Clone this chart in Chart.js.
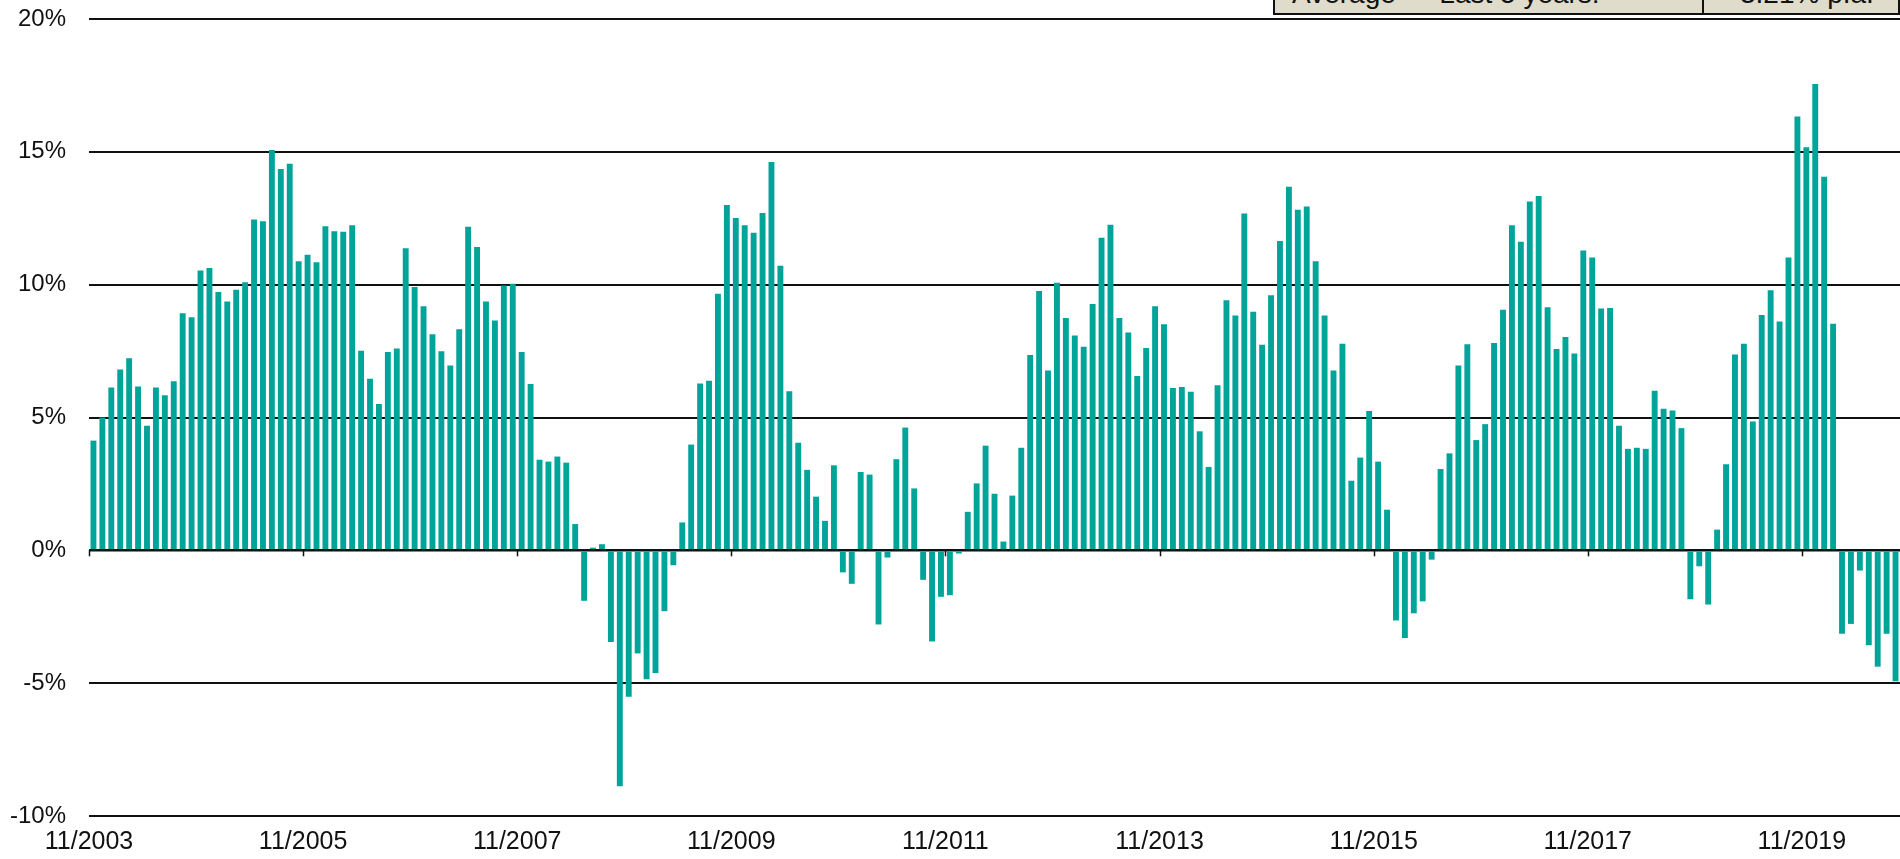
<!DOCTYPE html>
<html>
<head>
<meta charset="utf-8">
<title>Monthly change</title>
<script src="https://cdn.jsdelivr.net/npm/chart.js@4.4.1/dist/chart.umd.min.js"></script>
<style>
    html, body { margin: 0; padding: 0; background: #fff; overflow: hidden; }
    #wrap { position: relative; width: 1900px; height: 859px; }
    #chart { position: absolute; left: 0; top: 0; }
    .summary-cell {
        position: absolute;
        top: -30px;
        height: 43px;
        box-sizing: content-box;
        background: #e0dccb;
        border-left: 2px solid #111;
        border-bottom: 2px solid #111;
        font-family: 'Liberation Sans', Arial, sans-serif;
        font-size: 28px;
        line-height: 28px;
        color: #111;
        white-space: nowrap;
    }
    .summary-cell span { position: absolute; top: 10px; }
</style>
</head>
<body>
<div id="wrap">
    <canvas id="chart" width="1900" height="859"></canvas>
    <div class="summary-cell" id="summaryLabel" style="left:1273px; width:429px;"><span style="left:17px;"></span></div>
    <div class="summary-cell" id="summaryValue" style="left:1702px; width:194px; border-right:2px solid #111;"><span style="left:36px;"></span></div>
</div>
<script>
// Monthly bars, 11/2003 onwards (values in %)
const startMonth = 11;
const startYear = 2003;

const values = [
    4.13, 5.0, 6.13, 6.81, 7.23, 6.17, 4.69, 6.13, 5.84, 6.36,
    8.92, 8.77, 10.53, 10.63, 9.72, 9.37, 9.81, 10.09, 12.45, 12.39,
    15.07, 14.35, 14.55, 10.88, 11.13, 10.84, 12.2, 12.01, 11.99, 12.24,
    7.51, 6.46, 5.51, 7.47, 7.6, 11.37, 9.91, 9.19, 8.13, 7.49,
    6.96, 8.32, 12.18, 11.42, 9.37, 8.65, 9.97, 10.03, 7.47, 6.26,
    3.41, 3.34, 3.53, 3.30, 0.99, -1.90, 0.1, 0.23, -3.45, -8.88,
    -5.51, -3.88, -4.85, -4.62, -2.29, -0.56, 1.05, 3.98, 6.28, 6.38,
    9.66, 13.0, 12.51, 12.24, 11.95, 12.7, 14.62, 10.71, 5.99, 4.05,
    3.03, 2.02, 1.11, 3.2, -0.83, -1.26, 2.95, 2.85, -2.79, -0.27,
    3.43, 4.62, 2.33, -1.11, -3.43, -1.75, -1.69, -0.12, 1.45, 2.52,
    3.94, 2.13, 0.33, 2.06, 3.86, 7.35, 9.76, 6.77, 10.07, 8.75,
    8.09, 7.66, 9.27, 11.77, 12.26, 8.75, 8.2, 6.56, 7.62, 9.19,
    8.51, 6.11, 6.15, 5.97, 4.48, 3.14, 6.21, 9.41, 8.84, 12.68,
    8.98, 7.74, 9.6, 11.64, 13.69, 12.82, 12.94, 10.88, 8.84, 6.77,
    7.78, 2.62, 3.49, 5.24, 3.34, 1.53, -2.64, -3.3, -2.37, -1.92,
    -0.35, 3.06, 3.65, 6.96, 7.76, 4.15, 4.75, 7.8, 9.06, 12.24,
    11.62, 13.13, 13.34, 9.15, 7.58, 8.03, 7.41, 11.29, 11.02, 9.1,
    9.12, 4.69, 3.82, 3.86, 3.82, 6.01, 5.33, 5.26, 4.6, -1.84,
    -0.6, -2.04, 0.78, 3.24, 7.37, 7.78, 4.85, 8.86, 9.79, 8.61,
    11.02, 16.33, 15.17, 17.55, 14.06, 8.53, -3.14, -2.77, -0.76, -3.57,
    -4.38, -3.14, -4.93
];

// Month labels (M/YYYY), one per bar
const months = values.map((_, i) => {
    const m = (startMonth - 1 + i) % 12 + 1;
    const y = startYear + Math.floor((startMonth - 1 + i) / 12);
    return m + '/' + y;
});

// Labels shown under the axis
const xTickLabels = ['11/2003', '11/2005', '11/2007', '11/2009', '11/2011', '11/2013', '11/2015', '11/2017', '11/2019'];
const yTicks = [-10, -5, 0, 5, 10, 15, 20];

const summaryText = 'Average \u2014 Last 5 years:';
const summaryValue = '3.21% p.a.';

const barColor = '#00a499';
const inkColor = '#111';
const fontFamily = "'Liberation Sans', Arial, sans-serif";

document.querySelector('#summaryLabel span').textContent = summaryText;
document.querySelector('#summaryValue span').textContent = summaryValue;

// Small tick marks hanging under the zero line at each labelled month
const zeroTicks = {
    id: 'zeroTicks',
    afterDraw(chart) {
        const { ctx, scales: { x, y } } = chart;
        const y0 = y.getPixelForValue(0);
        ctx.save();
        ctx.strokeStyle = inkColor;
        ctx.lineWidth = 1.5;
        x.ticks.forEach(t => {
            const px = Math.round(x.getPixelForValue(t.value)) + 0.5;
            ctx.beginPath();
            ctx.moveTo(px, y0);
            ctx.lineTo(px, y0 + 6);
            ctx.stroke();
        });
        ctx.restore();
    }
};

const ctx = document.getElementById('chart').getContext('2d');
new Chart(ctx, {
    type: 'bar',
    data: {
        datasets: [{
            data: values.map((v, i) => ({ x: i + 0.5, y: v })),
            backgroundColor: barColor,
            borderWidth: 0,
            barPercentage: 0.66,
            categoryPercentage: 1.0
        }]
    },
    options: {
        responsive: false,
        animation: false,
        layout: { padding: { top: 19, right: 0, left: 0, bottom: 0 } },
        plugins: {
            legend: { display: false },
            tooltip: { enabled: false }
        },
        scales: {
            x: {
                type: 'linear',
                min: 0,
                max: months.length,
                offset: false,
                grid: { display: false, drawTicks: false, offset: false },
                border: { display: false },
                afterBuildTicks: scale => {
                    scale.ticks = xTickLabels.map(l => ({ value: months.indexOf(l) }));
                },
                afterFit: scale => { scale.height = 43; },
                ticks: {
                    autoSkip: false,
                    maxRotation: 0,
                    padding: 11,
                    color: inkColor,
                    font: { family: fontFamily, size: 25 },
                    callback: value => months[value]
                }
            },
            y: {
                min: -10,
                max: 20,
                z: 1,
                grid: {
                    color: inkColor,
                    lineWidth: c => (c.tick && c.tick.value === 0 ? 2.5 : 2),
                    drawTicks: true,
                    tickLength: 20,
                    tickColor: 'rgba(0,0,0,0)'
                },
                border: { display: false },
                afterBuildTicks: scale => {
                    scale.ticks = yTicks.map(v => ({ value: v }));
                },
                afterFit: scale => { scale.width = 89; },
                ticks: {
                    padding: 3,
                    color: inkColor,
                    font: { family: fontFamily, size: 24 },
                    callback: value => value + '%'
                }
            }
        }
    },
    plugins: [zeroTicks]
});
</script>
</body>
</html>
